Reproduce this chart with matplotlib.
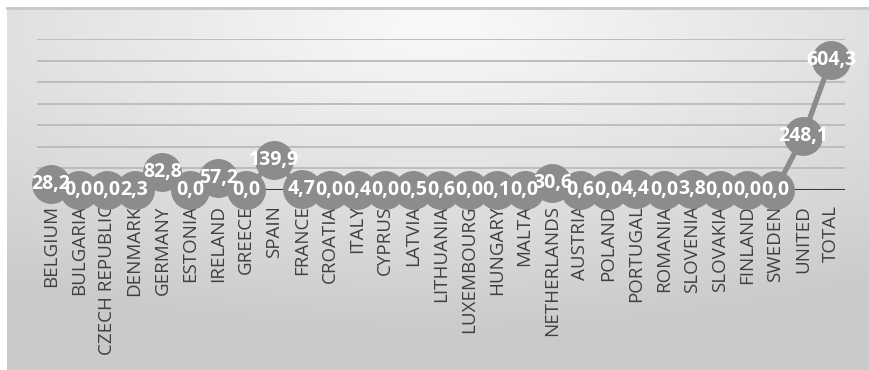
import numpy as np
import matplotlib
matplotlib.use("Agg")
import matplotlib.pyplot as plt

categories = ["BELGIUM", "BULGARIA", "CZECH REPUBLIC", "DENMARK", "GERMANY", "ESTONIA",
              "IRELAND", "GREECE", "SPAIN", "FRANCE", "CROATIA", "ITALY", "CYPRUS",
              "LATVIA", "LITHUANIA", "LUXEMBOURG", "HUNGARY", "MALTA", "NETHERLANDS",
              "AUSTRIA", "POLAND", "PORTUGAL", "ROMANIA", "SLOVENIA", "SLOVAKIA",
              "FINLAND", "SWEDEN", "UNITED", "TOTAL"]
values = [28.2, 0.0, 0.0, 2.3, 82.8, 0.0, 57.2, 0.0, 139.9, 4.7, 0.0, 0.4, 0.0,
          0.5, 0.6, 0.0, 0.1, 0.0, 30.6, 0.6, 0.0, 4.4, 0.0, 3.8, 0.0,
          0.0, 0.0, 248.1, 604.3]
grid_ticks = [100, 200, 300, 400, 500, 600, 700]

W, H = 870, 370
fig = plt.figure(figsize=(W / 100, H / 100), dpi=100)
fig.patch.set_facecolor("white")

# background gradient panel
bg = fig.add_axes([7 / W, 0, 1 - 7 / W, (H - 7) / H])
yy, xx = np.mgrid[0:1:300j, 0:1:600j]
r = np.sqrt(((xx - 0.5) * 1.0) ** 2 + ((yy - 0.05) * 1.1) ** 2)
r = np.clip(r / 0.95, 0, 1)
shade = 0.98 - 0.19 * r
img = np.dstack([shade, shade, shade])
bg.imshow(img, aspect="auto", extent=[0, 1, 0, 1], origin="upper", interpolation="bilinear")
bg.set_xlim(0, 1)
bg.set_ylim(0, 1)
bg.axis("off")
bg.plot([0, 1], [0.998, 0.998], color="#c8c8c8", lw=2, transform=bg.transAxes, clip_on=False)

left, right = 37 / W, 845 / W
bottom = (H - 190) / H
top = (H - 39) / H
ax = fig.add_axes([left, bottom, right - left, top - bottom])
ax.patch.set_alpha(0)

x = np.arange(len(categories))
ax.set_xlim(-0.5, len(categories) - 0.5)
ax.set_ylim(0, 700)

for g in grid_ticks:
    ax.axhline(g, color="#bdbdbd", lw=1.4, zorder=1)
ax.axhline(0, color="#3a3a3a", lw=2.2, zorder=1)

ax.plot(x, values, color="#8c8c8c", lw=3.8, marker="o", markersize=27,
        markerfacecolor="#8c8c8c", markeredgecolor="#8c8c8c", zorder=3, clip_on=False)

for xi, v in zip(x, values):
    lab = f"{v:.1f}".replace(".", ",")
    ax.text(xi, v, lab, ha="center", va="center", color="white", fontsize=14,
            fontfamily="Open Sans", fontweight="bold", zorder=4)

ax.set_xticks(x)
ax.set_xticklabels(categories, rotation=90, fontsize=13.5, fontfamily="Open Sans",
                   color="#404040", va="top", ha="center")
ax.tick_params(axis="x", length=0, pad=11)
ax.set_yticks([])
for s in ax.spines.values():
    s.set_visible(False)

fig.savefig("out.png", dpi=100)
